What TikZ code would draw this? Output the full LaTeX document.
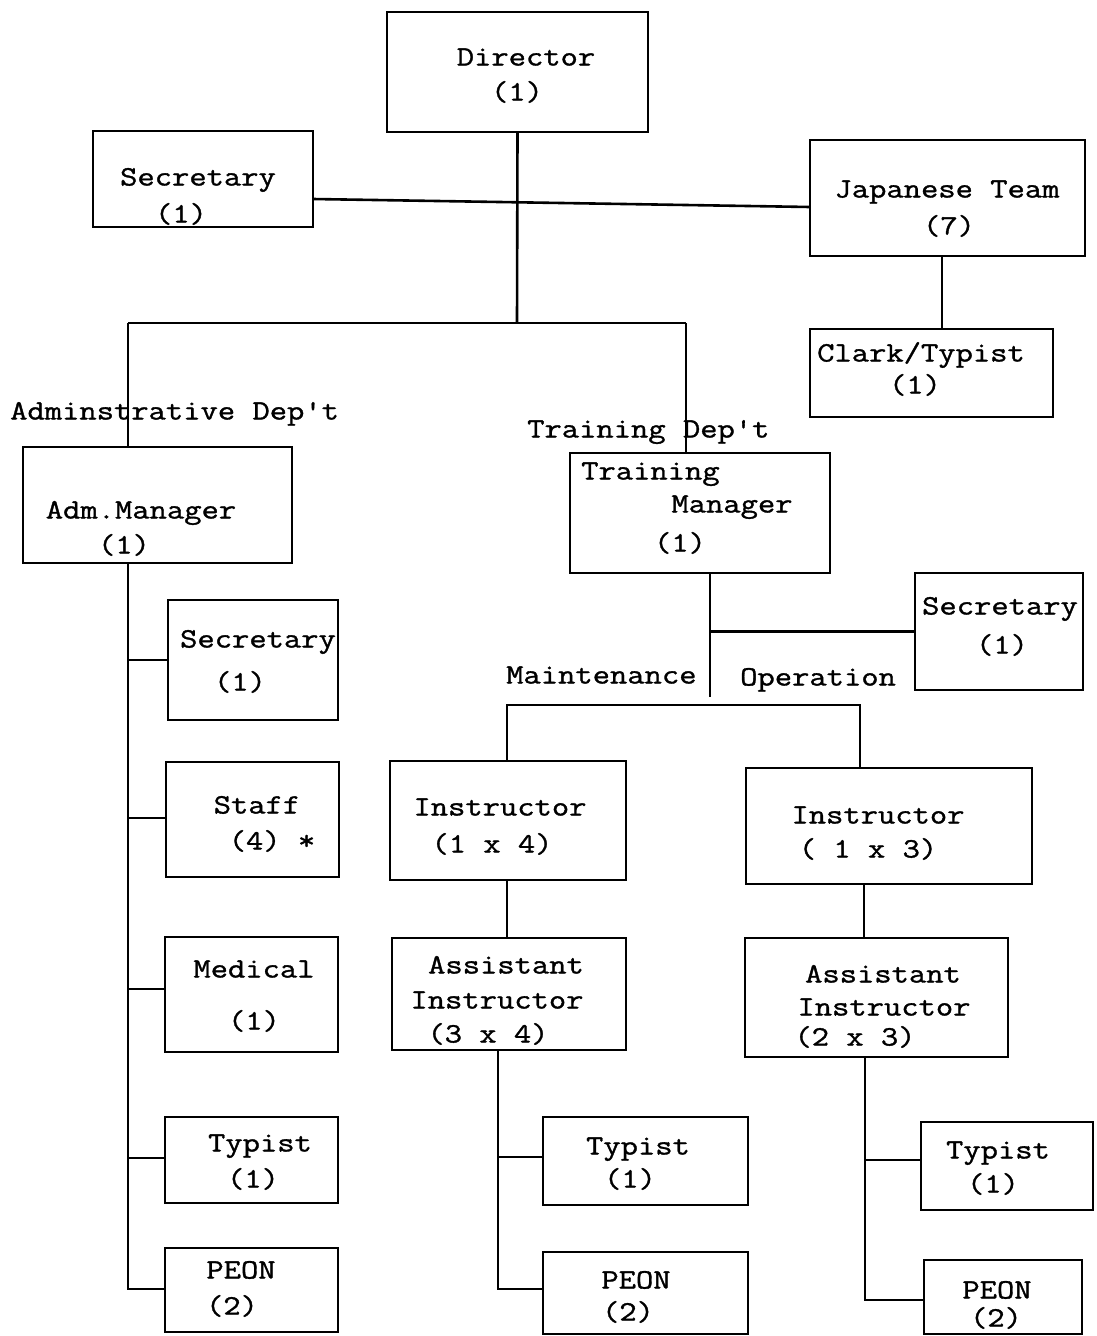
\documentclass[tikz,border=0pt]{standalone}
\usepackage{fontspec}
\setmainfont{Latin Modern Mono}[Ligatures=TeXOff,FakeStretch=1.2,FakeBold=1.2]
\newcommand\mybox[5]{\node[box,minimum width={(#4)-(#2)},minimum height={(#5)-(#3)}] (#1) at ({((#2)+(#4))/2},{((#3)+(#5))/2}) {};}
\newcommand\mytext[3]{\node[txt] (#1) at (#2) {#3};}
\begin{document}
\begin{tikzpicture}[x=1pt,y=-1pt,
  box/.style={draw,line width=2.5pt,inner sep=0pt,outer sep=0pt},
  txt/.style={inner sep=0pt,text height=18pt,text depth=3pt,font=\fontsize{28}{32}\selectfont},
  lbl/.style={inner sep=0pt,text height=18pt,text depth=3pt,anchor=west,font=\fontsize{28}{32}\selectfont},
  ln/.style={line width=2.6pt}]
\useasboundingbox (0,0) rectangle (1096,1336);
% boxes
\mybox{dir}{387}{12}{648}{132}
\mybox{sec1}{93}{131}{313}{227}
\mybox{jt}{810}{140}{1085}{256}
\mybox{ct}{810}{329}{1053}{417}
\mybox{adm}{23}{447}{292}{563}
\mybox{tm}{570}{453}{830}{573}
\mybox{sec2}{915}{573}{1083}{690}
\mybox{sec3}{168}{600}{338}{720}
\mybox{staff}{166}{762}{339}{877}
\mybox{med}{165}{937}{338}{1052}
\mybox{typ1}{165}{1117}{338}{1203}
\mybox{peon1}{165}{1248}{338}{1332}
\mybox{ins1}{390}{761}{626}{880}
\mybox{ins2}{746}{768}{1032}{884}
\mybox{ai1}{392}{938}{626}{1050}
\mybox{ai2}{745}{938}{1008}{1057}
\mybox{typ2}{543}{1117}{748}{1205}
\mybox{peon2}{543}{1252}{748}{1334}
\mybox{typ3}{921}{1122}{1093}{1210}
\mybox{peon3}{924}{1260}{1082}{1334}
% texts
\mytext{dirA}{526,58}{Director}
\mytext{dirB}{517,93}{(1)}
\mytext{sec1A}{198,178}{Secretary}
\mytext{sec1B}{181,215}{(1)}
\mytext{jtA}{947,190}{Japanese Team}
\mytext{jtB}{949,227}{(7)}
\mytext{ctA}{921,354}{Clark/Typist}
\mytext{ctB}{915,386}{(1)}
\mytext{admA}{141,511}{Adm.Manager}
\mytext{admB}{124,546}{(1)}
\node[txt,anchor=west] (tmA) at (581,472) {Training};
\mytext{tmB}{732,505}{Manager}
\mytext{tmC}{680,544}{(1)}
\mytext{sec2A}{1000,607}{Secretary}
\mytext{sec2B}{1002,646}{(1)}
\mytext{sec3A}{258,640}{Secretary}
\mytext{sec3B}{240,683}{(1)}
\mytext{staffA}{257,806}{Staff}
\mytext{staffB}{272,842}{(4) *}
\mytext{medA}{254,970}{Medical}
\mytext{medB}{254,1022}{(1)}
\mytext{typ1A}{260,1144}{Typist}
\mytext{typ1B}{253,1180}{(1)}
\mytext{peon1A}{241,1271}{PEON}
\mytext{peon1B}{232,1307}{(2)}
\mytext{ins1A}{500,808}{Instructor}
\mytext{ins1B}{492,845}{(1 x 4)}
\mytext{ins2A}{878,816}{Instructor}
\mytext{ins2B}{868,850}{( 1 x 3)}
\mytext{ai1A}{506,966}{Assistant}
\mytext{ai1B}{497,1001}{Instructor}
\mytext{ai1C}{488,1035}{(3 x 4)}
\mytext{ai2A}{883,975}{Assistant}
\mytext{ai2B}{884,1008}{Instructor}
\mytext{ai2C}{855,1038}{(2 x 3)}
\mytext{typ2A}{638,1147}{Typist}
\mytext{typ2B}{630,1180}{(1)}
\mytext{peon2A}{636,1281}{PEON}
\mytext{peon2B}{628,1313}{(2)}
\mytext{typ3A}{998,1151}{Typist}
\mytext{typ3B}{993,1185}{(1)}
\mytext{peon3A}{997,1291}{PEON}
\mytext{peon3B}{996,1319}{(2)}
% labels
\node[lbl] (admdep) at (10,412) {Adminstrative Dep't};
\node[lbl] (trdep) at (527,430) {Training Dep't};
\node[lbl] (maint) at (506,676) {Maintenance};
\node[lbl] (oper) at (740,678) {Operation};
% connectors
\coordinate (bm) at (517,323);
\coordinate (b1) at (128,323);
\coordinate (b2) at (686,323);
\draw[ln] (dir.south) -- (bm);
\draw[ln] (b1) -- (b2);
\draw[ln] (b1) -- (b1 |- adm.north);
\draw[ln] (b2) -- (b2 |- tm.north);
\draw[ln] (sec1.east |- 0,199) -- (jt.west |- 0,207);
\draw[ln] (jt.south -| 942,0) -- (ct.north -| 942,0);
% admin column
\coordinate (a5) at (128,1289);
\draw[ln] (adm.south -| b1) -- (a5) -- (a5 -| peon1.west);
\draw[ln] (sec3.west -| b1) -- (sec3.west);
\draw[ln] (b1 |- 0,818) -- (staff.west |- 0,818);
\draw[ln] (b1 |- 0,989) -- (med.west |- 0,989);
\draw[ln] (b1 |- 0,1158) -- (typ1.west |- 0,1158);
% training
\coordinate (t1) at (710,697);
\draw[ln] (tm.south -| t1) -- (t1);
\draw[ln] (sec2.west -| t1) -- (sec2.west);
\coordinate (m1) at (507,705);
\coordinate (m2) at (860,705);
\draw[ln] (m1 |- ins1.north) -- (m1) -- (m2) -- (m2 |- ins2.north);
\draw[ln] (ins1.south -| m1) -- (ai1.north -| m1);
\draw[ln] (ins2.south -| 864,0) -- (ai2.north -| 864,0);
\coordinate (c1) at (498,1289);
\draw[ln] (ai1.south -| c1) -- (c1) -- (c1 -| peon2.west);
\draw[ln] (c1 |- 0,1157) -- (typ2.west |- 0,1157);
\coordinate (d1) at (865,1300);
\draw[ln] (ai2.south -| d1) -- (d1) -- (d1 -| peon3.west);
\draw[ln] (d1 |- 0,1160) -- (typ3.west |- 0,1160);
\end{tikzpicture}
\end{document}
